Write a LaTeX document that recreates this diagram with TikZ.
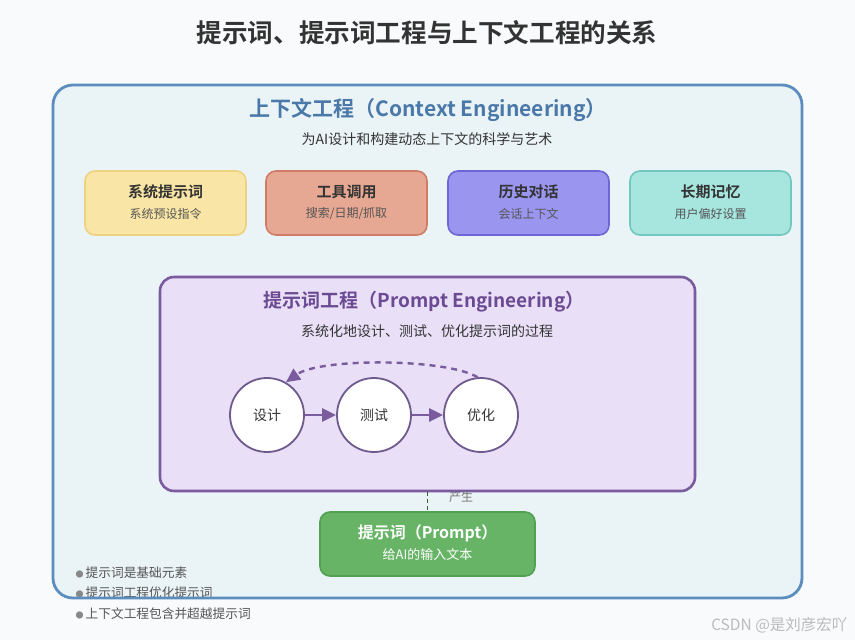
\documentclass[tikz,border=0pt]{standalone}
\usepackage{fontspec}
\setmainfont{Noto Sans CJK SC}[BoldFont={Noto Sans CJK SC Bold}]
\usetikzlibrary{arrows.meta}
\definecolor{bgc}{HTML}{F8FAFB}
\definecolor{outerfill}{HTML}{EAF3F6}
\definecolor{outerline}{HTML}{5B8DBF}
\definecolor{outertitle}{HTML}{4A78A8}
\definecolor{txt}{HTML}{333333}
\definecolor{subtxt}{HTML}{555555}
\definecolor{yfill}{HTML}{F9E5A5}\definecolor{yline}{HTML}{EED27F}
\definecolor{sfill}{HTML}{E6A893}\definecolor{sline}{HTML}{CE7C66}
\definecolor{pfill}{HTML}{9A95EE}\definecolor{pline}{HTML}{6F66D6}
\definecolor{tfill}{HTML}{A7E5DF}\definecolor{tline}{HTML}{70C8BE}
\definecolor{pefill}{HTML}{E9DFF7}\definecolor{peline}{HTML}{7A5C9E}
\definecolor{petitle}{HTML}{6B4A93}
\definecolor{circline}{HTML}{6E5A8C}
\definecolor{gfill}{HTML}{67B467}\definecolor{gline}{HTML}{52A052}
\definecolor{wm}{HTML}{BBBBBB}
\tikzset{
  card/.style={rounded corners=10pt, line width=1.6pt, minimum width=161pt, minimum height=64pt, inner sep=0pt},
  cardtitle/.style={font=\fontsize{15}{18}\selectfont\bfseries, text=txt},
  cardsub/.style={font=\fontsize{12}{15}\selectfont, text=subtxt},
  stage/.style={circle, draw=circline, line width=1.8pt, fill=white, minimum size=74pt, inner sep=0pt, font=\fontsize{14}{17}\selectfont, text=txt},
  flow/.style={-{Triangle[length=14pt,width=13pt]}, draw=peline, line width=2.4pt},
  bullet/.style={anchor=west, font=\fontsize{12.7}{15}\selectfont, text=subtxt},
}
\begin{document}
\begin{tikzpicture}[x=1pt,y=-1pt]
\useasboundingbox (0,0) rectangle (855,640);
\fill[bgc] (0,0) rectangle (855,640);
\node[font=\fontsize{25.6}{30}\selectfont\bfseries, text=txt] (title) at (427,33) {提示词、提示词工程与上下文工程的关系};
% outer box fill
\fill[outerfill, rounded corners=20pt] (53,85) rectangle (802,598);
\node[font=\fontsize{21}{25}\selectfont\bfseries, text=outertitle] (ctitle) at (428,110) {上下文工程（Context Engineering）};
\node[font=\fontsize{14}{17}\selectfont, text=txt] (csub) at (427,139) {为AI设计和构建动态上下文的科学与艺术};
% cards
\node[card, draw=yline, fill=yfill] (c1) at (165.5,203) {};
\node[cardtitle] (c1t) at (165.5,192) {系统提示词};
\node[cardsub] (c1s) at (165.5,214) {系统预设指令};
\node[card, draw=sline, fill=sfill] (c2) at (346.5,203) {};
\node[cardtitle] (c2t) at (346.5,192) {工具调用};
\node[cardsub] (c2s) at (346.5,214) {搜索/日期/抓取};
\node[card, draw=pline, fill=pfill] (c3) at (528.5,203) {};
\node[cardtitle] (c3t) at (528.5,192) {历史对话};
\node[cardsub] (c3s) at (528.5,214) {会话上下文};
\node[card, draw=tline, fill=tfill] (c4) at (710.5,203) {};
\node[cardtitle] (c4t) at (710.5,192) {长期记忆};
\node[cardsub] (c4s) at (710.5,214) {用户偏好设置};
% prompt engineering box
\node[draw=peline, fill=pefill, line width=2.6pt, rounded corners=14pt, minimum width=535pt, minimum height=214pt, inner sep=0pt] (pe) at (427.5,384) {};
\node[font=\fontsize{19}{23}\selectfont\bfseries, text=petitle] (petit) at (424,302) {提示词工程（Prompt Engineering）};
\node[font=\fontsize{14}{17}\selectfont, text=txt] (pesub) at (427,331) {系统化地设计、测试、优化提示词的过程};
\node[stage] (des) at (267,415) {设计};
\node[stage] (tst) at (374,415) {测试};
\node[stage] (opt) at (481,415) {优化};
\draw[flow] (des) -- (tst);
\draw[flow] (tst) -- (opt);
\draw[flow, dashed, dash pattern=on 6pt off 5pt] (opt.95) .. controls (445,358) and (320,358) .. (des.60);
% prompt node
\node[draw=gline, fill=gfill, line width=1.6pt, rounded corners=10pt, minimum width=215pt, minimum height=64pt, inner sep=0pt] (pr) at (427.5,544) {};
\node[font=\fontsize{16}{19}\selectfont\bfseries, text=white] (prt) at (427.5,533) {提示词（Prompt）};
\node[font=\fontsize{13}{16}\selectfont, text=white] (prs) at (427.5,555) {给AI的输入文本};
\draw[dashed, dash pattern=on 4pt off 3pt, draw=gline!60!black, line width=1.6pt] (pe.south -| pr.north) -- (pr.north);
\node[font=\fontsize{12}{15}\selectfont, text=subtxt!80] (gen) at (461,497) {产生};
% bullets
\node[bullet] (b1) at (72,573) {\textcolor{subtxt!70}{\fontsize{8}{10}\selectfont●}\,提示词是基础元素};
\node[bullet] (b2) at (72,593) {\textcolor{subtxt!70}{\fontsize{8}{10}\selectfont●}\,提示词工程优化提示词};
\node[bullet] (b3) at (72,614) {\textcolor{subtxt!70}{\fontsize{8}{10}\selectfont●}\,上下文工程包含并超越提示词};
% outer border on top
\draw[outerline, line width=2.8pt, rounded corners=20pt] (53,85) rectangle (802,598);
\node[anchor=east, font=\fontsize{15.5}{18}\selectfont, text=wm] (wmk) at (851,625) {CSDN @是刘彦宏吖};
\end{tikzpicture}
\end{document}
